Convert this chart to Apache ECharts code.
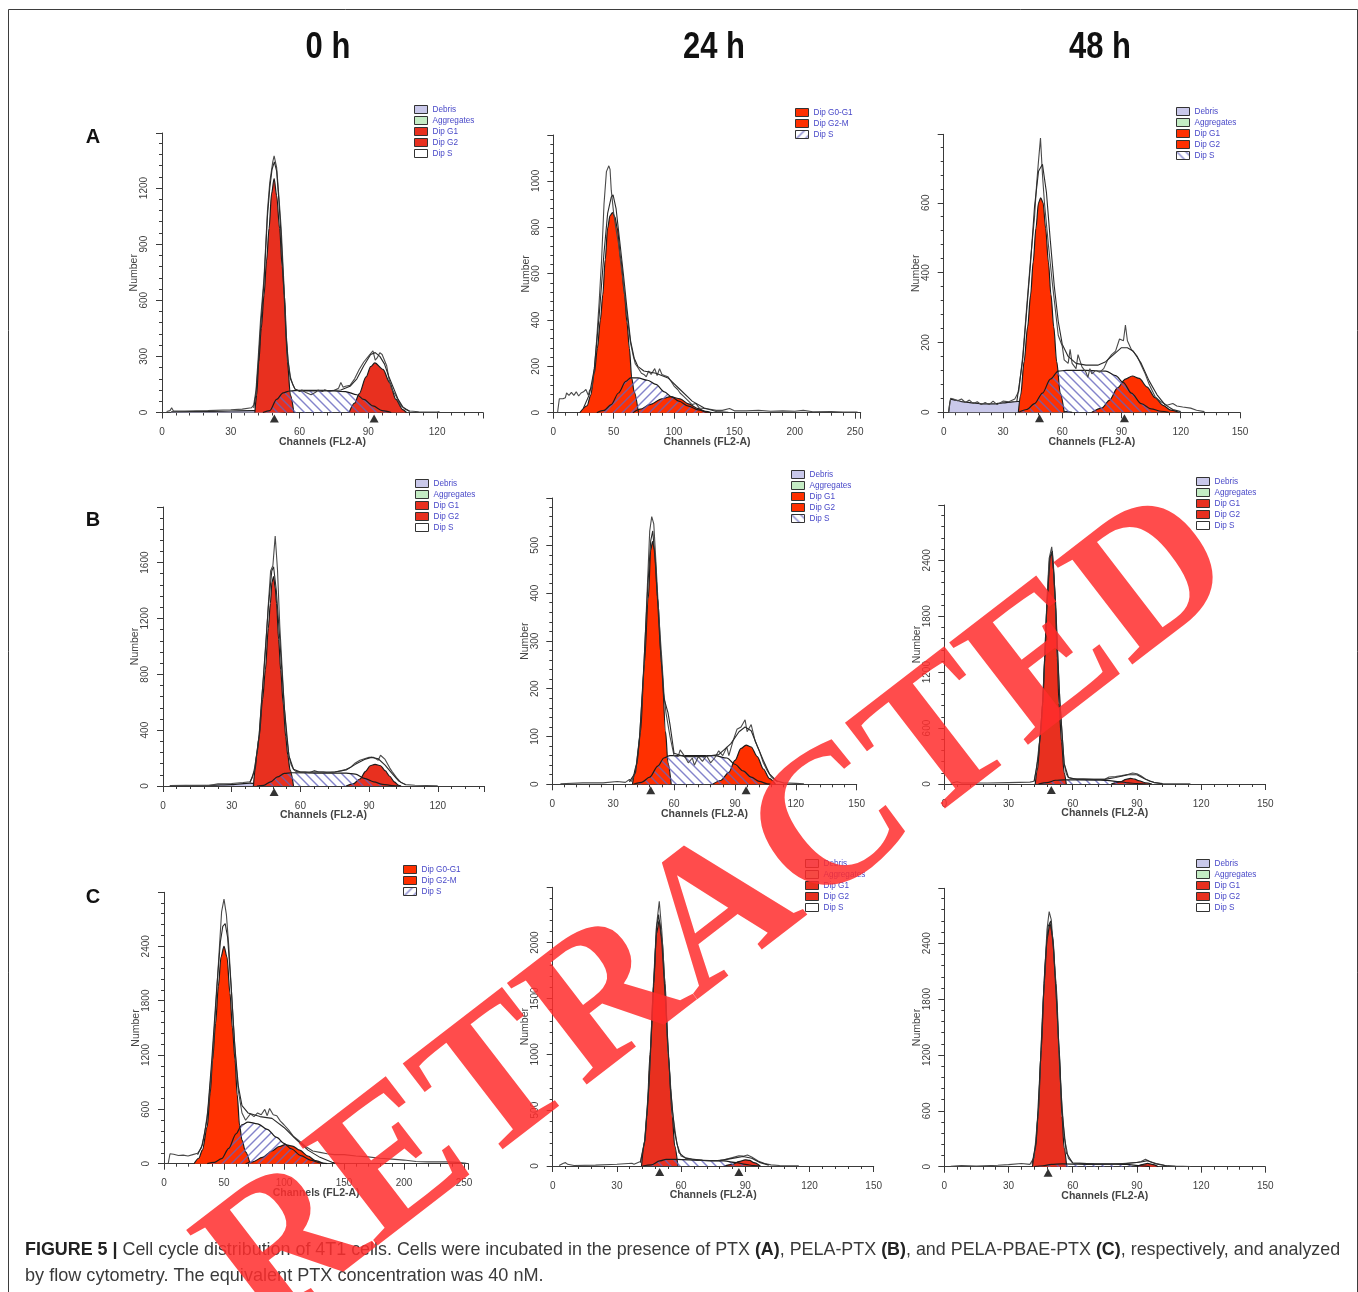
<!DOCTYPE html>
<html>
<head>
<meta charset="utf-8">
<style>html,body{margin:0;padding:0;background:#fff}#c{width:1358px;height:1292px}</style>
<script src="https://cdn.jsdelivr.net/npm/echarts@6/dist/echarts.min.js"></script>
</head>
<body>
<div id="c"></div>
<script>
// ---- values: [channel, number] pairs ----
const columnTitles = ['0 h', '24 h', '48 h'];
const rowLetters = ['A', 'B', 'C'];
const legend5 = ['Debris', 'Aggregates', 'Dip G1', 'Dip G2', 'Dip S'];
const legend3 = ['Dip G0-G1', 'Dip G2-M', 'Dip S'];

const a0Debris = [[4,4],[20,6],[40,10],[46,16],[49,16],[52,3],[54,0]];
const a0G1 = [[40.5,0],[41.3,93],[42.2,270],[43.3,450],[44.5,627],[45.6,810],[46.7,984],[47.8,1170],[48.9,1250],[50,1160],[51.3,984],[52.4,780],[53.4,627],[54.7,270],[56,93],[57.5,0]];
const a0G2 = [[81.6,0],[84,50],[86,100],[89,190],[91,245],[92.8,265],[96.4,230],[99.3,160],[102,70],[105,15],[106.6,0]];
const a0S = [[44,0],[47,10],[50,70],[52.8,105],[55.7,115],[60,118],[70,118],[80,112],[85,95],[88,70],[92,35],[96,10],[100,0]];
const a0Hist = [[2,5],[3.5,10],[4.2,25],[5,8],[10,8],[20,10],[30,15],[35,18],[39,25],[40,40],[41,120],[42,300],[43,500],[44.5,720],[46,1080],[47,1230],[48.3,1340],[48.9,1372],[50,1310],[51,1150],[52,980],[53,730],[54,450],[55,280],[56,190],[57,150],[58,125],[60,112],[61,120],[62,112],[63,105],[65,95],[67,108],[68,120],[70,112],[71,122],[73,112],[75,118],[77,130],[78,160],[79,135],[80,140],[82,145],[84,180],[86,230],[88,270],[90,300],[92,330],[93,280],[94,295],[95,320],[96,310],[98,250],[99,180],[100,130],[102,90],[104,40],[106,18],[108,8],[112,4],[120,3],[121,5]];
const a0Fit = [[40,25],[41,100],[42,260],[43,450],[44.5,700],[46,1050],[47,1200],[48,1300],[49,1340],[50,1290],[51,1130],[52,930],[53,700],[54,430],[55,270],[56,180],[58,125],[60,115],[70,115],[78,120],[82,140],[85,180],[88,250],[91,310],[93,320],[95,300],[97,260],[99,190],[101,130],[103,70],[105,30],[108,5]];
const a0Marks = [49, 92.5];

const a24G1 = [[22,0],[28,30],[31,76],[34,170],[36.5,278],[39,400],[41,508],[43,660],[45,796],[47,850],[49,863],[51,845],[53,796],[56,660],[59,508],[61,390],[63,278],[65,148],[67,90],[70.5,0]];
const a24G2 = [[66,0],[72,15],[80,35],[90,60],[97,69],[105,60],[112,38],[120,18],[126,6],[131,0]];
const a24S = [[36,0],[42,10],[48,35],[54,85],[60,135],[64,150],[70,150],[78,140],[85,122],[92,90],[98,68],[104,50],[112,28],[120,12],[128,2],[132,0]];
const a24Hist = [[3.5,0],[5,60],[8,60],[10,65],[11,85],[13,75],[15,88],[17,75],[19,90],[21,72],[23,85],[25,90],[27,100],[29,75],[30,95],[32,110],[34,190],[36,320],[38,480],[40,660],[42,900],[44,1040],[46,1065],[47,1050],[48,960],[50,860],[52,790],[54,730],[56,640],[58,560],[60,470],[62,380],[64,300],[66,250],[68,210],[70,195],[73,170],[75,165],[77,155],[79,180],[81,165],[84,190],[86,160],[88,190],[90,165],[92,160],[95,155],[97,140],[100,115],[103,100],[105,85],[108,70],[112,50],[115,35],[118,40],[121,20],[125,18],[130,15],[135,10],[140,10],[146,18],[150,8],[160,8],[170,10],[180,6],[190,8],[200,6],[207,10],[215,4],[230,5],[240,3],[252,3]];
const a24Fit = [[25,20],[30,80],[34,190],[38,420],[42,690],[45,860],[48,930],[49.5,940],[52,880],[55,740],[58,600],[61,450],[64,310],[67,235],[70,200],[75,180],[85,170],[95,150],[105,100],[115,50],[125,20],[135,5],[145,2]];

const a48Debris = [[2.5,0],[3.5,38],[6,35],[10,30],[15,27],[20,24],[25,24],[30,27],[35,30],[40,32],[45,30],[50,20],[55,10],[60,3],[65,0]];
const a48G1 = [[37.8,0],[39,50],[40.7,145],[42.5,245],[44,336],[45.3,430],[46.7,527],[48,600],[49.1,614],[50.3,600],[51.6,527],[53,430],[54.3,336],[55.7,245],[57.2,145],[59,55],[61,0]];
const a48G2 = [[75,0],[80,12],[84,35],[88,70],[92,95],[95.5,104],[99,97],[103,72],[107,42],[111,20],[115,6],[119,0]];
const a48S = [[38,0],[42,8],[46,25],[50,55],[54,95],[58,118],[62,120],[72,120],[82,118],[87,105],[91,85],[95,55],[100,25],[105,10],[110,3],[114,0]];
const a48Hist = [[2.5,0],[3.5,40],[5,38],[7,33],[9,38],[11,28],[13,35],[15,25],[17,30],[19,22],[21,28],[23,22],[25,32],[27,22],[30,32],[33,30],[36,38],[38,60],[40,160],[42,300],[44,440],[46,560],[47,650],[48,720],[49,785],[50,680],[51,600],[53,480],[55,370],[57,270],[58,220],[60,190],[61,150],[63,140],[64,180],[65,140],[67,125],[68,165],[70,130],[72,115],[73,100],[74,125],[75,110],[77,120],[79,115],[81,125],[83,150],[85,165],[87,175],[89,210],[91,205],[92,250],[93,205],[95,180],[98,160],[100,135],[102,110],[104,80],[107,45],[110,30],[113,20],[116,25],[118,18],[121,15],[125,12],[128,6],[132,2]];
const a48Fit = [[37,30],[40,150],[42,290],[44,430],[46,590],[48,690],[50,710],[52,630],[54,490],[56,360],[58,260],[60,195],[63,160],[67,140],[72,135],[78,135],[82,145],[86,165],[90,185],[93,185],[96,175],[100,140],[104,90],[108,50],[112,22],[116,8],[120,2]];
const a48Marks = [48.5, 91.5];

const b0Debris = [[3,2],[20,5],[30,10],[38,20],[42,15],[48,5],[52,0]];
const b0G1 = [[39.5,0],[40.2,115],[41,230],[42,353],[43.5,620],[44.7,830],[46,1130],[46.9,1308],[47.6,1460],[48.3,1500],[49,1420],[49.6,1308],[50.5,1050],[51.4,830],[52.5,590],[53.6,353],[54.5,220],[55.5,115],[57,0]];
const b0G2 = [[80,0],[83,15],[86,50],[88.5,105],[90.5,145],[92.6,155],[95,145],[97,110],[99,70],[101,30],[103,5],[104,0]];
const b0S = [[41,0],[44,5],[47,30],[50,65],[53,90],[56,95],[70,92],[80,92],[84,85],[88,55],[92,30],[96,12],[100,3],[103,0]];
const b0Hist = [[3,3],[10,5],[20,4],[24,15],[30,18],[35,25],[38,30],[39,60],[40,130],[41,240],[42,370],[43,600],[44,800],[45,1030],[46,1300],[47,1540],[48,1580],[48.5,1570],[49,1790],[50,1550],[51,1150],[52,850],[53,560],[54,350],[55,220],[56,150],[57,120],[58,105],[60,100],[62,100],[64,95],[66,110],[68,100],[70,100],[72,95],[75,100],[78,110],[80,120],[82,135],[84,165],[86,185],[88,195],[90,205],[92,205],[94,185],[95,220],[97,190],[99,130],[100,105],[102,60],[104,25],[106,10],[110,5],[120,2]];
const b0Fit = [[38,25],[40,110],[42,360],[44,820],[46,1280],[47.5,1540],[48.3,1570],[49.5,1400],[51,1050],[53,560],[55,215],[57,120],[60,100],[75,100],[80,115],[84,155],[88,190],[91,205],[94,195],[97,150],[100,90],[103,35],[106,8]];
const b0Marks = [48.5];

const b24G1 = [[39.5,0],[41.5,40],[43.5,110],[45.3,250],[47.3,389],[48.5,490],[49.4,508],[50.4,490],[51.9,389],[53.9,250],[55.8,110],[57,45],[58.6,0]];
const b24G2 = [[79,0],[83,8],[87,25],[90,50],[93,75],[95.5,82],[98,78],[101,58],[104,32],[107,12],[110,0]];
const b24S = [[40,0],[44,4],[48,15],[52,38],[55,55],[58,60],[70,60],[80,60],[86,55],[90,42],[94,28],[98,15],[102,6],[106,1],[108,0]];
const b24Hist = [[4,1],[15,3],[25,3],[32,6],[36,4],[38,10],[39,6],[41,25],[43,100],[45,230],[47,430],[48,530],[49,560],[50,545],[51,470],[52,390],[53,320],[54,260],[55,190],[56,150],[57,125],[58,100],[60,60],[62,58],[63,72],[65,60],[67,45],[69,55],[70,40],[72,58],[74,48],[76,60],[78,45],[80,55],[82,70],[84,60],[86,78],[87,60],[89,90],[91,115],[93,120],[95,135],[96,110],[98,125],[100,90],[102,70],[104,45],[106,28],[108,15],[110,8],[114,3],[120,2],[124,1]];
const b24Fit = [[38,5],[41,25],[43,95],[45,240],[47,410],[48.5,510],[49.5,530],[51,450],[53,300],[55,180],[57,150],[58,125],[60,65],[65,58],[75,58],[82,62],[88,85],[92,110],[95,120],[98,112],[101,80],[104,50],[107,22],[111,5]];
const b24Marks = [48.5, 95.5];

const b48G1 = [[42.5,0],[43.5,150],[45,550],[46,864],[47,1350],[48,1935],[49.2,2420],[50.2,2480],[51,2300],[51.9,1935],[52.8,1350],[53.6,864],[54.8,450],[56,120],[57,0]];
const b48G2 = [[78,0],[82,22],[85,50],[87,60],[89,52],[91,35],[94,12],[97,0]];
const b48S = [[44,0],[48,15],[52,40],[56,45],[70,42],[76,38],[82,25],[86,12],[90,4],[94,0]];
const b48Hist = [[3,8],[6,25],[8,10],[20,10],[30,15],[40,20],[42,30],[43,150],[45,560],[46,900],[47,1400],[48,2000],[49,2420],[50.2,2545],[51,2350],[52,1900],[53,1350],[54,900],[55,550],[56,220],[57,110],[58,70],[60,55],[65,55],[70,50],[75,50],[77,75],[80,80],[83,90],[86,105],[88,118],[90,110],[92,85],[94,55],[96,30],[98,18],[101,6],[105,3],[115,2]];
const b48Fit = [[42,30],[44,300],[46,880],[48,1950],[49.5,2440],[50.5,2500],[52,1950],[54,880],[56,220],[58,70],[62,50],[75,50],[80,70],[86,100],[90,100],[94,50],[98,15],[102,4]];
const b48Marks = [50];

const c0G1 = [[25,0],[29,60],[32,150],[36,408],[38.5,780],[40.5,1143],[43,1550],[45.3,1960],[47.5,2280],[50,2400],[52.5,2280],[55,1879],[57,1500],[59.2,1143],[61,760],[63,420],[65,260],[68,130],[71.7,0]];
const c0G2 = [[68,0],[74,20],[82,70],[90,140],[96,190],[101,210],[107,195],[113,150],[120,85],[126,35],[133,0]];
const c0S = [[36,0],[42,15],[48,55],[54,170],[60,330],[65,430],[70,460],[78,440],[86,380],[94,290],[100,225],[106,165],[114,90],[122,40],[130,10],[136,0]];
const c0Hist = [[3.5,0],[5,110],[8,105],[12,90],[16,95],[20,85],[24,100],[28,115],[31,170],[34,340],[37,640],[40,1100],[43,1700],[46,2350],[48,2780],[50,2920],[52,2750],[54,2400],[56,1950],[58,1500],[60,1100],[62,800],[65,560],[68,480],[72,550],[75,520],[78,560],[81,540],[84,600],[86,530],[88,610],[91,540],[94,530],[97,470],[100,430],[104,370],[108,300],[112,260],[118,190],[124,140],[130,125],[136,110],[142,100],[150,100],[160,85],[170,75],[180,60],[190,50],[200,40],[210,25],[220,20],[235,20],[245,15],[252,5]];
const c0Fit = [[28,100],[32,210],[36,500],[40,1180],[44,1950],[47,2450],[49,2620],[51,2650],[53,2500],[56,1950],[59,1300],[62,850],[65,640],[70,560],[80,520],[90,500],[100,400],[110,270],[120,150],[130,70],[140,15],[148,0]];

const c24G1 = [[41.5,0],[43,220],[44,440],[45.5,1000],[47.2,1635],[48.5,2080],[49.8,2200],[51,2050],[52.5,1635],[54,1000],[55.9,440],[57,180],[58.5,0]];
const c24G2 = [[80,0],[84,15],[87,40],[90,55],[92,50],[94,30],[97,0]];
const c24S = [[42,0],[46,10],[50,45],[53,60],[58,60],[70,50],[80,45],[86,30],[90,15],[94,3],[97,0]];
const c24Hist = [[3,5],[5,25],[6,30],[7,15],[10,5],[20,8],[30,15],[37,25],[38,15],[41,40],[43,230],[45,750],[47,1600],[48.5,2150],[49.8,2370],[51,2100],[52.5,1600],[54,1000],[56,480],[58,200],[60,90],[62,75],[65,60],[70,50],[75,45],[80,55],[84,75],[87,92],[89,88],[91,98],[93,80],[96,45],[99,22],[102,10],[106,4],[115,2]];
const c24Fit = [[41,30],[43,220],[45,720],[47,1550],[48.5,2130],[49.5,2250],[51,2000],[53,1380],[55,700],[57,300],[59,120],[62,70],[70,50],[78,48],[84,68],[89,85],[93,70],[97,30],[101,8]];
const c24Marks = [50, 87];

const c48G1 = [[41.2,0],[42.5,180],[43.8,537],[45.3,1254],[46.7,1970],[48,2450],[49.4,2610],[50.6,2480],[52.2,1970],[53.7,1254],[55,537],[56,200],[57.2,0]];
const c48G2 = [[90,0],[93,25],[95,35],[97,25],[100,0]];
const c48S = [[42,0],[46,10],[50,25],[55,30],[70,25],[85,25],[92,10],[96,0]];
const c48Hist = [[3,4],[8,12],[15,6],[25,15],[30,22],[36,35],[40,25],[42,100],[44,620],[46,1700],[48,2550],[49,2740],[50,2650],[52,2020],[54,1000],[56,320],[58,90],[60,40],[70,30],[80,28],[90,45],[92,55],[94,80],[96,55],[99,35],[103,15],[108,8],[115,2]];
const c48Fit = [[41,25],[43,280],[45,1150],[47,2150],[48.5,2580],[49.7,2640],[51,2350],[53,1550],[55,600],[57,150],[60,40],[70,30],[85,35],[92,50],[95,65],[99,30],[104,8]];
const c48Marks = [48.5];

// ---- panel layout and styling ----
const DUSK = '#e8301f', VIVID = '#ff3000';
const panels = [
 {l:162,r:483,y0:412.5,top:133,xMax:140,xInt:30,yMax:1494,yInt:300,red:DUSK,hatch:'\\',names:legend5,debris:a0Debris,g1:a0G1,g2:a0G2,s:a0S,hist:a0Hist,fit:a0Fit,marks:a0Marks,lg:[414,105],sWhite:true},
 {l:553.3,r:860.7,y0:412.7,top:135,xMax:254.6,xInt:50,yMax:1198,yInt:200,red:VIVID,hatch:'/',names:legend3,g1:a24G1,g2:a24G2,s:a24S,hist:a24Hist,fit:a24Fit,marks:[],lg:[795,108]},
 {l:943.7,r:1240,y0:412.3,top:134.3,xMax:150,xInt:30,yMax:796,yInt:200,red:VIVID,hatch:'\\',names:legend5,debris:a48Debris,g1:a48G1,g2:a48G2,s:a48S,hist:a48Hist,fit:a48Fit,marks:a48Marks,lg:[1176,107]},
 {l:163,r:484,y0:786,top:507,xMax:140.2,xInt:30,yMax:1998,yInt:400,red:DUSK,hatch:'\\',names:legend5,debris:b0Debris,g1:b0G1,g2:b0G2,s:b0S,hist:b0Hist,fit:b0Fit,marks:b0Marks,lg:[415,479],sWhite:true},
 {l:552.3,r:856.7,y0:784.3,top:498,xMax:150,xInt:30,yMax:599,yInt:100,red:VIVID,hatch:'\\',names:legend5,g1:b24G1,g2:b24G2,s:b24S,hist:b24Hist,fit:b24Fit,marks:b24Marks,lg:[791,470]},
 {l:944.3,r:1265.3,y0:784,top:505,xMax:150,xInt:30,yMax:2993,yInt:600,red:DUSK,hatch:'\\',names:legend5,g1:b48G1,g2:b48G2,s:b48S,hist:b48Hist,fit:b48Fit,marks:b48Marks,lg:[1196,477],sWhite:true},
 {l:164,r:468.3,y0:1163.7,top:892.3,xMax:253.6,xInt:50,yMax:2996,yInt:600,red:VIVID,hatch:'/',names:legend3,g1:c0G1,g2:c0G2,s:c0S,hist:c0Hist,fit:c0Fit,marks:[],lg:[403,865]},
 {l:552.7,r:873.7,y0:1166,top:887.3,xMax:150,xInt:30,yMax:2495,yInt:500,red:DUSK,hatch:'\\',names:legend5,g1:c24G1,g2:c24G2,s:c24S,hist:c24Hist,fit:c24Fit,marks:c24Marks,lg:[805,859],sWhite:true},
 {l:944.3,r:1265.3,y0:1166.7,top:888.3,xMax:150,xInt:30,yMax:2990,yInt:600,red:DUSK,hatch:'\\',names:legend5,g1:c48G1,g2:c48G2,s:c48S,hist:c48Hist,fit:c48Fit,marks:c48Marks,lg:[1196,859],sWhite:true}
];

function hatchPattern(dir) {
  const n = 9, cv = document.createElement('canvas');
  cv.width = n; cv.height = n;
  const g = cv.getContext('2d');
  g.strokeStyle = 'rgba(100,100,190,0.8)';
  g.lineWidth = 1.4;
  const seg = (x1, y1, x2, y2) => { g.beginPath(); g.moveTo(x1, y1); g.lineTo(x2, y2); g.stroke(); };
  if (dir === '/') { seg(-1, n + 1, n + 1, -1); seg(-1, 1, 1, -1); seg(n - 1, n + 1, n + 1, n - 1); }
  else { seg(-1, -1, n + 1, n + 1); seg(n - 1, -1, n + 1, 1); seg(-1, n - 1, 1, n + 1); }
  return { image: cv, repeat: 'repeat' };
}

const TICK = '#3a3a3a', LABEL = '#3f3f3f', FONT = 'Liberation Sans';
const grids = [], xAxes = [], yAxes = [], series = [], legends = [];
const edge = { color: '#1c1c1c', width: 1.2 };

panels.forEach((p, i) => {
  grids.push({ left: p.l, top: p.top, width: p.r - p.l, height: p.y0 - p.top, containLabel: false });
  xAxes.push({
    gridIndex: i, type: 'value', min: 0, max: p.xMax, interval: p.xInt,
    name: 'Channels (FL2-A)', nameLocation: 'middle', nameGap: 24, nameMoveOverlap: false,
    nameTextStyle: { fontFamily: FONT, fontSize: 10.5, fontWeight: 'bold', color: '#444' },
    axisLine: { onZero: false, lineStyle: { color: TICK } },
    axisTick: { length: 6, lineStyle: { color: TICK } },
    minorTick: { show: true, splitNumber: 5, length: 3, lineStyle: { color: TICK } },
    axisLabel: { fontFamily: FONT, fontSize: 10, color: LABEL, margin: 15, showMaxLabel: p.xMax % p.xInt === 0, formatter: v => String(v) },
    splitLine: { show: false }
  });
  yAxes.push({
    gridIndex: i, type: 'value', min: 0, max: p.yMax, interval: p.yInt,
    name: 'Number', nameLocation: 'middle', nameGap: 22, nameRotate: 90, nameMoveOverlap: false,
    nameTextStyle: { fontFamily: FONT, fontSize: 10.5, color: '#444' },
    axisLine: { lineStyle: { color: TICK } },
    axisTick: { length: 6, lineStyle: { color: TICK } },
    minorTick: { show: true, splitNumber: 5, length: 3, lineStyle: { color: TICK } },
    axisLabel: { fontFamily: FONT, fontSize: 10, color: LABEL, margin: 12.5, rotate: 90, showMaxLabel: false, formatter: v => String(v) },
    splitLine: { show: false }
  });

  const area = (name, data, fill, z) => ({
    name, type: 'line', xAxisIndex: i, yAxisIndex: i, data, showSymbol: false, symbol: 'none',
    smooth: 0.3, smoothMonotone: 'x', z, animation: false,
    lineStyle: edge, itemStyle: { color: '#222' },
    areaStyle: { color: fill, opacity: 1 }
  });
  const trace = (name, data, color, z) => ({
    name, type: 'line', xAxisIndex: i, yAxisIndex: i, data, showSymbol: false, symbol: 'none',
    z, animation: false, lineStyle: { color, width: 1.1 }, itemStyle: { color }
  });
  const three = p.names === legend3;
  const g1Name = three ? 'Dip G0-G1' : 'Dip G1';
  const g2Name = three ? 'Dip G2-M' : 'Dip G2';
  if (p.debris) series.push(area('Debris', p.debris, '#c9c8ea', 2));
  series.push(area(g1Name, p.g1, p.red, 3));
  series.push(area(g2Name, p.g2, p.red, 3));
  const pattern = hatchPattern(p.hatch);
  series.push(area('Dip S', p.s, pattern, 4));
  series.push(trace('Data', p.hist, '#4a4a4a', 5));
  series.push(trace('Fit', p.fit, '#2a2a2a', 5));
  if (p.marks.length) series.push({
    name: 'Peak', type: 'scatter', xAxisIndex: i, yAxisIndex: i, clip: false,
    data: p.marks.map(m => [m, 0]), symbol: 'triangle', symbolSize: [9, 8], symbolOffset: [0, 6],
    itemStyle: { color: '#000' }, z: 6, animation: false
  });
  if (!three && i === 0) series.push({ name: 'Aggregates', type: 'line', xAxisIndex: i, yAxisIndex: i, data: [], animation: false });

  const styleOf = name => {
    const base = { borderColor: '#333', borderWidth: 1 };
    if (name === 'Debris') return { ...base, color: '#c9c8ea' };
    if (name === 'Aggregates') return { ...base, color: '#c4ecc4' };
    if (name === 'Dip S') return { ...base, color: p.sWhite ? '#fff' : pattern };
    return { ...base, color: p.red };
  };
  legends.push({
    left: p.lg[0], top: p.lg[1], orient: 'vertical', selectedMode: false, icon: 'rect',
    itemWidth: 13, itemHeight: 8, itemGap: 2, padding: 0,
    textStyle: { fontFamily: FONT, fontSize: 8.2, color: '#4848c8', lineHeight: 8 },
    data: p.names.map(name => ({ name, icon: 'rect', itemStyle: styleOf(name) }))
  });
});

const deg = Math.PI / 180;
const graphic = [
  { type: 'rect', shape: { x: 8.5, y: 9.5, width: 1349, height: 1300 }, style: { fill: 'none', stroke: '#3d3d3d', lineWidth: 1 }, silent: true, z: 0 }
];
[328, 714, 1100].forEach((x, i) => graphic.push({
  type: 'text', x, y: 48, scaleY: 1.22, style: { text: columnTitles[i], font: 'bold 31px "Liberation Sans"', fill: '#111', textAlign: 'center', textVerticalAlign: 'middle' }, z: 10
}));
[137, 520, 897].forEach((y, i) => graphic.push({
  type: 'text', x: 93, y, style: { text: rowLetters[i], font: 'bold 20px "Liberation Sans"', fill: '#111', textAlign: 'center', textVerticalAlign: 'middle' }, z: 10
}));
const cap = { fontFamily: 'Liberation Sans', fontSize: 17.9, fill: '#3a3a3a', fontWeight: 'normal' };
graphic.push({
  type: 'text', x: 25, y: 1250, z: 10,
  style: {
    text: '{b|FIGURE 5 | }{n|Cell cycle distribution of 4T1 cells. Cells were incubated in the presence of PTX }{b|(A)}{n|, PELA-PTX }{b|(B)}{n|, and PELA-PBAE-PTX }{b|(C)}{n|, respectively, and analyzed}',
    textVerticalAlign: 'middle',
    rich: { n: { ...cap }, b: { ...cap, fontWeight: 'bold', fill: '#222' } }
  }
});
graphic.push({
  type: 'text', x: 25, y: 1276, z: 10,
  style: { text: 'by flow cytometry. The equivalent PTX concentration was 40 nM.', font: '18.1px "Liberation Sans"', fill: '#3a3a3a', textVerticalAlign: 'middle' }
});
graphic.push({
  type: 'text', x: 171, y: 1216, rotation: 37.6 * deg, z: 100, silent: true,
  style: { text: 'RETRACTED', font: 'bold 197px "Liberation Serif"', fill: 'rgba(255,45,45,0.85)' }
});

const chart = echarts.init(document.getElementById('c'), null, { renderer: 'canvas' });
chart.setOption({
  backgroundColor: '#fff', animation: false,
  grid: grids, xAxis: xAxes, yAxis: yAxes, series, legend: legends, graphic: { elements: graphic }
});
</script>
</body>
</html>
